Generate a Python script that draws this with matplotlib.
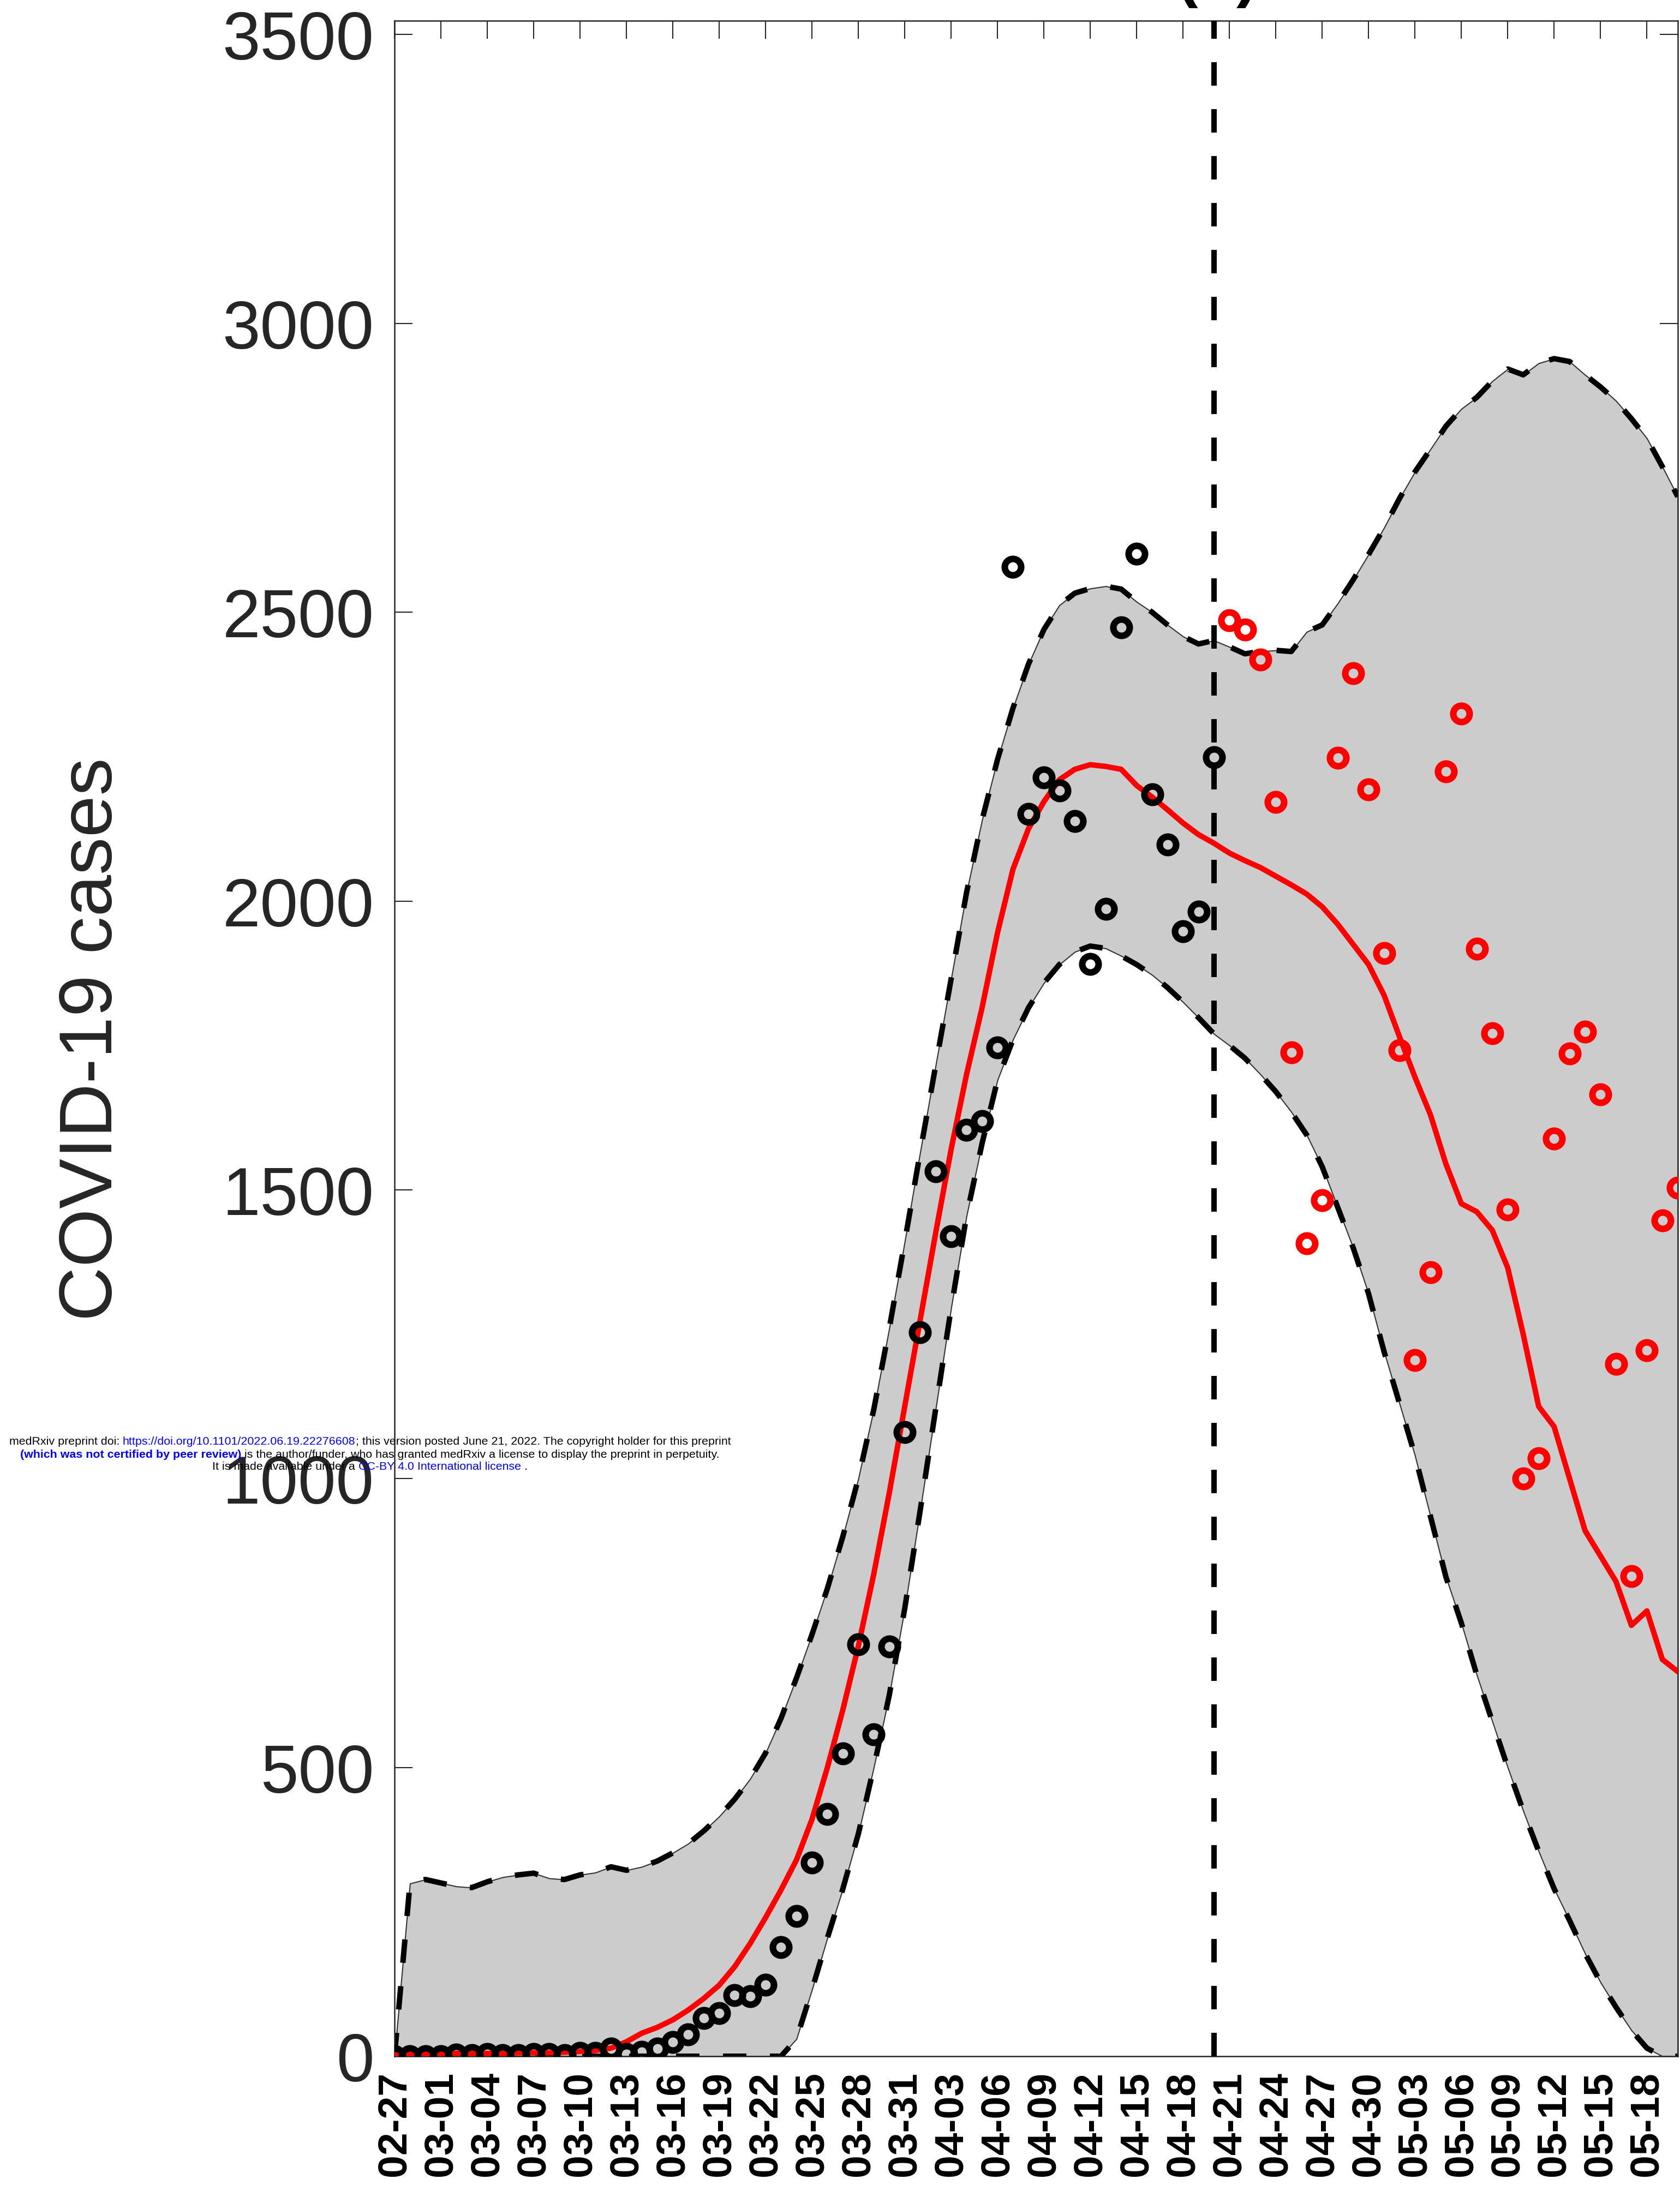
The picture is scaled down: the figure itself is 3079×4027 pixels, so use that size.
import matplotlib
matplotlib.use("Agg")
import matplotlib.pyplot as plt
import numpy as np

plt.rcParams['font.family'] = ['Liberation Sans', 'DejaVu Sans']

# daily values, day 0 = 02-27
upper_bound = [0, 299, 306, 300, 294, 292, 302, 310, 314, 317,
               308, 306, 314, 318, 328, 322, 328, 338, 352, 368,
               390, 415, 445, 480, 525, 585, 655, 730, 810, 900,
               1000, 1120, 1260, 1410, 1565, 1715, 1865, 2015, 2140, 2245,
               2334, 2410, 2470, 2512, 2533, 2541, 2545, 2540, 2518, 2500,
               2478, 2458, 2445, 2451, 2440, 2428, 2432, 2434, 2432, 2466,
               2478, 2515, 2556, 2600, 2646, 2697, 2743, 2782, 2822, 2852,
               2872, 2900, 2921, 2911, 2931, 2939, 2934, 2911, 2890, 2866,
               2835, 2801, 2752, 2700]
lower_bound = [0] * 26 + [30, 115, 205, 290,
               385, 500, 625, 775, 945, 1120, 1295, 1455, 1580, 1690,
               1760, 1815, 1858, 1890, 1912, 1922, 1918, 1905, 1890, 1872,
               1850, 1825, 1798, 1770, 1750, 1728, 1700, 1670, 1635, 1595,
               1540, 1470, 1400, 1320, 1220, 1130, 1040, 935, 830, 750,
               660, 580, 500, 425, 355, 290, 235, 178, 128, 85,
               45, 14, 0, 0]
fitted_mean = [2, 4, 4, 5, 5, 5, 5, 5, 6, 6,
               6, 7, 8, 10, 14, 25, 40, 50, 63, 80,
               100, 123, 155, 195, 240, 288, 340, 410, 500, 600,
               710, 835, 975, 1125, 1275, 1425, 1570, 1700, 1815, 1945,
               2055, 2125, 2172, 2210, 2228, 2236, 2233, 2228, 2200, 2180,
               2158, 2135, 2115, 2100, 2083, 2070, 2058, 2043, 2028, 2012,
               1990, 1960, 1925, 1890, 1837, 1765, 1695, 1630, 1545, 1476,
               1462, 1430, 1365, 1250, 1125, 1090, 1000, 910, 866, 822,
               746, 771, 687, 666]
observed = [0, 0, 0, 0, 3, 2, 4, 2, 2, 4,
            4, 2, 6, 6, 13, 4, 8, 13, 25, 38,
            66, 75, 106, 104, 124, 189, 243, 335, 419, 524,
            713, 557, 709, 1081, 1253, 1532, 1420, 1604, 1619, 1746,
            2579, 2151, 2214, 2191, 2138, 1891, 1986, 2474, 2601, 2185,
            2098, 1948, 1982, 2249]
held_out = [2486, 2470, 2418, 2171, 1738, 1407, 1482, 2248, 2394, 2193,
            1910, 1742, 1205, 1357, 2224, 2324, 1917, 1771, 1466, 1000,
            1035, 1589, 1736, 1774, 1665, 1199, 831, 1222, 1447, 1504]
split_day = 53

tick_days = list(range(0, 82, 3))
tick_labels = ['02-27', '03-01', '03-04', '03-07', '03-10', '03-13', '03-16',
               '03-19', '03-22', '03-25', '03-28', '03-31', '04-03', '04-06',
               '04-09', '04-12', '04-15', '04-18', '04-21', '04-24', '04-27',
               '04-30', '05-03', '05-06', '05-09', '05-12', '05-15', '05-18']

W, H = 3079, 4028
fig = plt.figure(figsize=(W / 300, H / 300), dpi=300)
ax = fig.add_axes([723 / W, 1 - 3770 / H, (3075 - 723) / W, (3770 - 39) / H])

days = np.arange(len(upper_bound))
obs_days = np.arange(len(observed))
new_days = np.arange(len(observed), len(observed) + len(held_out))

dash = (0, (4.3, 4.3))
ax.fill_between(days, lower_bound, upper_bound, facecolor='#cccccc',
                edgecolor='#333333', linewidth=0.5, zorder=1)
ax.plot(days, upper_bound, color='k', lw=2.4, ls=dash, zorder=2)
ax.plot(days, lower_bound, color='k', lw=2.4, ls=dash, zorder=2)
ax.plot(days, fitted_mean, color='#ff0000', lw=2.4, zorder=3)
ax.axvline(split_day, color='k', lw=2.4, ls=dash, zorder=3)
ax.plot(obs_days, observed, 'o', mfc='none', mec='k', ms=7.2, mew=2.9, zorder=4)
ax.plot(new_days, held_out, 'o', mfc='none', mec='#ff0000', ms=7.2, mew=2.9, zorder=4)

ax.set_xlim(0, 83)
ax.set_ylim(0, 3524)
ax.set_axisbelow(True)

ax.set_xticks(tick_days)
ax.set_xticklabels(tick_labels, rotation=90, fontsize=18, fontweight='bold')
ax.tick_params(axis='x', bottom=False, top=True, direction='in', length=7.9,
               width=0.5, color='#262626', pad=6.5)
ax.set_yticks(np.arange(0, 3501, 500))
ax.tick_params(axis='y', left=True, right=True, direction='in', length=7.9,
               width=0.5, color='#262626', labelsize=30, labelcolor='#262626', pad=9)
for s in ax.spines.values():
    s.set_color('#262626')
    s.set_linewidth(0.6)

ax.set_ylabel('COVID-19 cases', fontsize=33, color='#262626')
ax.yaxis.set_label_coords(-0.208, 0.5)

# panel letter, cut off at the top edge
fig.text(2231 / W, 1 + 9.5 / H, '(b)', ha='center', va='baseline',
         fontsize=28, fontweight='bold')

# preprint stamp
blue = '#0000ff'
stamp = [
    (2643, [('medRxiv preprint doi: ', 'k', 'normal'),
            ('https://doi.org/10.1101/2022.06.19.22276608', blue, 'normal'),
            ('; this version posted June 21, 2022. The copyright holder for this preprint', 'k', 'normal')]),
    (2667, [('(which was not certified by peer review)', blue, 'bold'),
            (' is the author/funder, who has granted medRxiv a license to display the preprint in perpetuity.', 'k', 'normal')]),
    (2688, [('It is made available under a ', 'k', 'normal'),
            ('CC-BY 4.0 International license', blue, 'normal'),
            (' .', 'k', 'normal')]),
]
stamp_size = 5.15
renderer = fig.canvas.get_renderer()


def text_width(s, weight):
    t = fig.text(0, 0, s + 'M', fontsize=stamp_size, fontweight=weight)
    m = fig.text(0, 0, 'M', fontsize=stamp_size, fontweight=weight)
    w = t.get_window_extent(renderer).width - m.get_window_extent(renderer).width
    t.remove()
    m.remove()
    return w


for y_px, parts in stamp:
    widths = [text_width(s, wt) for s, c, wt in parts]
    x = 678 - sum(widths) / 2
    for (s, c, wt), w in zip(parts, widths):
        fig.text(x / W, 1 - y_px / H, s, color=c, fontweight=wt,
                 fontsize=stamp_size, ha='left', va='center')
        x += w

fig.savefig('out.png', dpi=300)
